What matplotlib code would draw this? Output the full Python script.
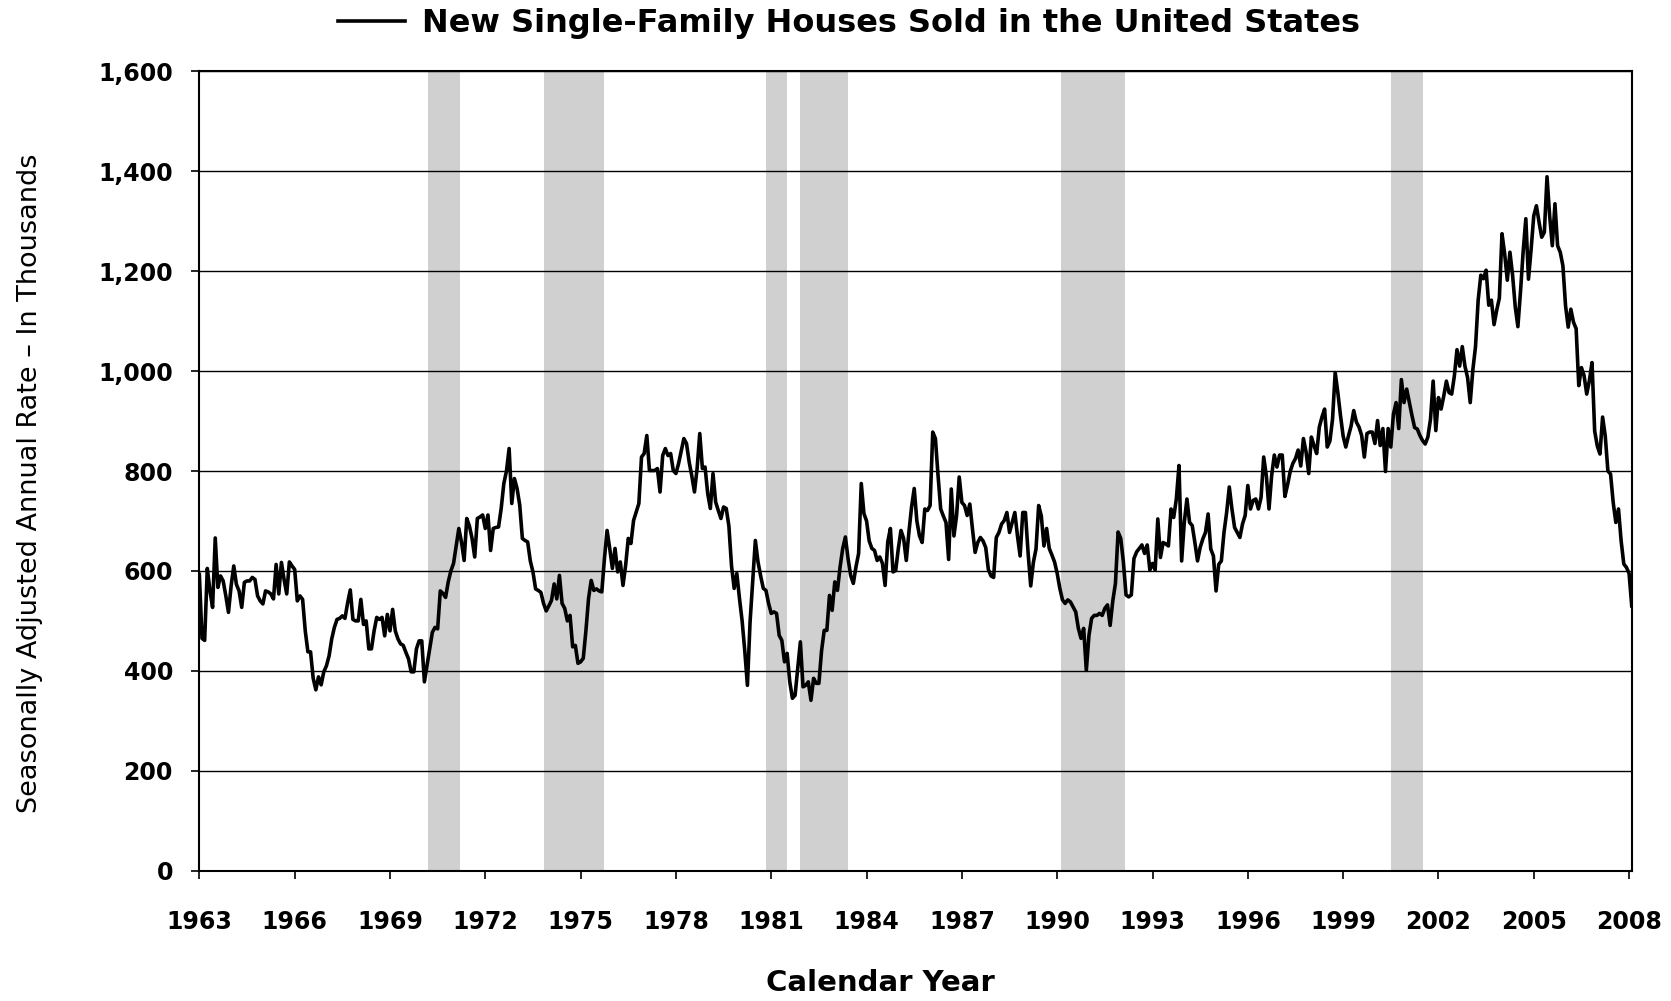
import numpy as np
import matplotlib
matplotlib.use("Agg")
import matplotlib.pyplot as plt
from matplotlib.ticker import FuncFormatter

plt.rcParams['font.family'] = ['DejaVu Sans']

# monthly sales, seasonally adjusted annual rate (thousands), Jan 1963 onward
sales_1960s = [
    593, 465, 461, 605, 560, 527, 666, 567, 590, 580, 550, 517,   # 1963
    570, 610, 573, 560, 527, 577, 580, 580, 587, 583, 550, 540,   # 1964
    534, 560, 558, 554, 544, 613, 554, 617, 583, 554, 618, 610,   # 1965
    603, 540, 550, 543, 480, 438, 438, 385, 362, 388, 372, 398,   # 1966
    410, 430, 464, 487, 503, 505, 510, 505, 536, 562, 503, 500,   # 1967
    500, 543, 493, 500, 444, 444, 480, 507, 503, 507, 470, 513,   # 1968
    480, 523, 480, 464, 454, 451, 437, 424, 398, 398, 444, 460,   # 1969
]
sales_1970s = [
    460, 378, 411, 444, 477, 487, 484, 560, 555, 547, 578, 600,
    615, 650, 685, 658, 621, 705, 690, 665, 628, 705, 708, 712,
    685, 712, 641, 685, 687, 688, 725, 775, 800, 845, 735, 785,
    765, 732, 665, 661, 658, 620, 598, 564, 561, 557, 535, 520,
    530, 541, 574, 544, 591, 535, 525, 500, 511, 448, 451, 415,
    418, 425, 480, 545, 581, 561, 564, 560, 558, 625, 681, 645,
    605, 645, 598, 618, 571, 611, 665, 655, 701, 718, 735, 828,
    835, 871, 801, 801, 801, 805, 758, 831, 845, 831, 835, 801,
    795, 815, 840, 865, 855, 818, 790, 758, 805, 875, 805, 808,
    755, 725, 795, 738, 721, 705, 728, 725, 690, 610, 565, 595,
]
sales_1980s = [
    545, 500, 440, 371, 498, 578, 661, 618, 590, 565, 561, 535,
    515, 518, 515, 471, 461, 418, 435, 378, 345, 351, 405, 458,
    368, 371, 378, 341, 385, 375, 375, 440, 481, 481, 551, 521,
    578, 561, 608, 645, 668, 625, 591, 575, 608, 635, 775, 715,
    700, 660, 645, 641, 621, 628, 615, 571, 658, 685, 598, 601,
    645, 681, 665, 621, 678, 728, 765, 700, 670, 657, 724, 721,
    731, 878, 865, 791, 724, 710, 697, 623, 764, 670, 711, 788,
    737, 731, 711, 734, 684, 637, 657, 667, 660, 647, 603, 590,
    587, 667, 677, 694, 701, 717, 677, 697, 717, 670, 630, 717,
    717, 637, 570, 617, 644, 731, 710, 650, 685, 645, 632, 618,
]
sales_1990s = [
    595, 565, 542, 535, 542, 538, 528, 518, 485, 465, 485, 401,
    471, 505, 511, 511, 515, 511, 525, 532, 491, 540, 575, 678,
    665, 618, 552, 548, 552, 625, 638, 645, 652, 635, 652, 602,
    615, 602, 704, 627, 657, 654, 650, 724, 707, 744, 811, 620,
    697, 744, 697, 691, 657, 620, 647, 664, 677, 714, 644, 630,
    560, 613, 620, 677, 717, 768, 724, 687, 677, 667, 694, 711,
    771, 724, 741, 744, 724, 747, 828, 790, 724, 791, 832, 808,
    832, 832, 749, 772, 799, 815, 825, 842, 810, 865, 838, 795,
    868, 851, 835, 888, 908, 924, 848, 860, 904, 997, 957, 911,
    870, 848, 870, 890, 921, 898, 888, 871, 828, 875, 878, 878,
]
sales_2000s = [
    855, 901, 851, 885, 799, 885, 848, 914, 937, 885, 983, 937,
    964, 937, 911, 887, 884, 871, 861, 854, 868, 904, 980, 881,
    947, 924, 950, 980, 957, 954, 990, 1043, 1010, 1049, 1010, 987,
    937, 1003, 1049, 1142, 1192, 1185, 1202, 1132, 1142, 1093, 1122, 1146,
    1275, 1235, 1182, 1238, 1192, 1129, 1089, 1160, 1240, 1305, 1184, 1244,
    1311, 1331, 1298, 1268, 1278, 1389, 1311, 1251, 1335, 1251, 1238, 1211,
    1131, 1088, 1124, 1098, 1085, 971, 1007, 991, 954, 981, 1017, 880,
    850, 834, 908, 870, 800, 794, 737, 697, 724, 660, 614, 607,
    595, 530,
]

# shaded periods (decimal years, as drawn)
shade_start = [1970.21, 1973.85, 1980.84, 1981.91, 1990.13, 2000.52]
shade_end = [1971.21, 1975.74, 1981.49, 1983.42, 1992.14, 2001.52]

year_ticks = list(range(1963, 2009, 3))
value_ticks = list(range(0, 1601, 200))

sales = np.array(sales_1960s + sales_1970s + sales_1980s + sales_1990s + sales_2000s)
t = 1963 + np.arange(len(sales)) / 12.0

fig = plt.figure(figsize=(16.71, 10.01), dpi=100)
ax = fig.add_axes([0.1193, 0.1302, 0.8572, 0.7985])

for s, e in zip(shade_start, shade_end):
    ax.axvspan(s, e, color='#d0d0d0', lw=0, zorder=0)

ax.set_yticks(value_ticks)
for v in value_ticks:
    ax.axhline(v, color='black', lw=1.0, zorder=1)

line, = ax.plot(t, sales, color='black', lw=2.6, zorder=3,
                solid_joinstyle='round')

ax.set_xlim(1963, t[-1])
ax.set_ylim(0, 1600)
ax.set_xticks(year_ticks)
ax.set_xticklabels([str(y) for y in year_ticks])
ax.yaxis.set_major_formatter(FuncFormatter(lambda v, p: f'{int(v):,}'))
ax.tick_params(axis='both', labelsize=17, length=6, width=1.2, color='black')
ax.tick_params(axis='x', pad=22)
ax.tick_params(axis='y', pad=13)
for lab in ax.get_xticklabels() + ax.get_yticklabels():
    lab.set_fontweight('bold')
for sp in ax.spines.values():
    sp.set_linewidth(1.5)

fig.text(0.527, 0.0184, 'Calendar Year', ha='center', va='center',
         fontsize=21, fontweight='bold')
fig.text(0.0178, 0.5177, 'Seasonally Adjusted Annual Rate \u2013 In Thousands',
         rotation=90, ha='center', va='center', fontsize=19.5)

fig.legend([line], ['New Single-Family Houses Sold in the United States'],
           loc='center', bbox_to_anchor=(0.508, 0.9766), frameon=False,
           prop={'size': 23, 'weight': 'bold'}, handlelength=2.1,
           handletextpad=0.55)

fig.savefig('out.png', dpi=100)
